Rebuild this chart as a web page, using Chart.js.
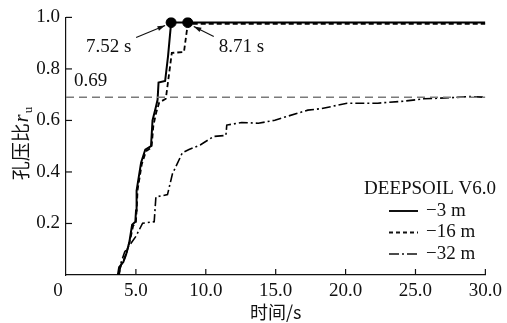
<!DOCTYPE html>
<html>
<head>
<meta charset="utf-8">
<title>孔压比时程</title>
<script src="https://cdn.jsdelivr.net/npm/chart.js"></script>
<style>
    html, body { margin: 0; padding: 0; background: #fff; }
    #chart { display: block; }
</style>
</head>
<body>
<canvas id="chart" width="507" height="323"></canvas>
<script>
// -3 m
const t3 = [3.71, 3.8, 3.95, 4.1, 4.3, 4.54, 4.73, 4.96, 5.01, 5.05, 5.37, 5.67, 6.08, 6.19, 6.43, 6.55, 6.62, 7.09, 7.3, 7.52, 30];
const r3 = [0, 0.03, 0.04, 0.05, 0.08, 0.13, 0.195, 0.207, 0.25, 0.328, 0.436, 0.487, 0.5, 0.6, 0.652, 0.68, 0.747, 0.753, 0.85, 0.98, 0.98];
// -16 m
const t16 = [3.75, 3.9, 4.0, 4.15, 4.35, 4.6, 4.8, 5.0, 5.06, 5.12, 5.42, 5.72, 6.12, 6.25, 6.45, 6.67, 7.14, 7.3, 7.57, 8.44, 8.71, 30];
const r16 = [0, 0.03, 0.05, 0.06, 0.09, 0.14, 0.19, 0.205, 0.26, 0.33, 0.43, 0.48, 0.495, 0.58, 0.63, 0.67, 0.684, 0.75, 0.862, 0.866, 0.975, 0.975];
// -32 m
const t32 = [3.8, 3.95, 4.2, 4.42, 5.0, 5.48, 6.31, 6.43, 7.26, 7.61, 8.32, 8.8, 9.6, 10.57, 11.44, 11.5, 12.57, 13.76, 14.94, 15.9, 17.3, 18.3, 20.1, 22.3, 24.2, 25.6, 27.5, 28.9, 30];
const r32 = [0, 0.05, 0.09, 0.106, 0.15, 0.201, 0.207, 0.303, 0.312, 0.392, 0.474, 0.487, 0.505, 0.538, 0.542, 0.582, 0.592, 0.589, 0.601, 0.617, 0.64, 0.646, 0.667, 0.667, 0.675, 0.684, 0.688, 0.693, 0.69];

const refLevel = [0.69, 0.69];
const refTimes = [0, 30];

const markTimes = [7.52, 8.71];
const markValues = [0.98, 0.98];
const markLabels = ['7.52 s', '8.71 s'];

const seriesNames = ['\u22123 m', '\u221216 m', '\u221232 m'];
const xTicks = [0, 5, 10, 15, 20, 25, 30];
const yTicks = [0.2, 0.4, 0.6, 0.8, 1.0];

const SERIF = '"Liberation Serif", "DejaVu Serif", serif';
const CJK = '"Noto Sans CJK SC", sans-serif';

function pts(xs, ys) {
    return xs.map((x, i) => ({ x: x, y: ys[i] }));
}

const dashes = [[], [5, 3], [9, 3, 2, 3]];
const widths = [2, 1.8, 1.6];

// 내측 눈금, 범례, 주석 그리기
const decor = {
    id: 'decor',
    afterDraw(chart) {
        const ctx = chart.ctx;
        const xs = chart.scales.x, ys = chart.scales.y;
        const area = chart.chartArea;
        ctx.save();
        ctx.strokeStyle = '#111';
        ctx.lineWidth = 1.2;
        // inner ticks
        xTicks.forEach(v => {
            if (v === 0) return;
            const px = xs.getPixelForValue(v);
            ctx.beginPath();
            ctx.moveTo(px, area.bottom);
            ctx.lineTo(px, area.bottom - 6);
            ctx.stroke();
        });
        yTicks.forEach(v => {
            const py = ys.getPixelForValue(v);
            ctx.beginPath();
            ctx.moveTo(area.left, py);
            ctx.lineTo(area.left + 6, py);
            ctx.stroke();
        });

        ctx.fillStyle = '#111';
        // origin label
        ctx.font = '19px ' + SERIF;
        ctx.textAlign = 'center';
        ctx.textBaseline = 'middle';
        ctx.fillText('0', area.left - 8, area.bottom + 16);

        // y title
        ctx.save();
        ctx.translate(21, 144);
        ctx.rotate(-Math.PI / 2);
        ctx.textBaseline = 'alphabetic';
        ctx.textAlign = 'left';
        ctx.font = '19px ' + CJK;
        const cjk = '孔压比';
        const w1 = ctx.measureText(cjk).width;
        ctx.font = 'italic 20px ' + SERIF;
        const w2 = ctx.measureText('r').width;
        ctx.font = '13px ' + SERIF;
        const w3 = ctx.measureText('u').width;
        let x0 = -(w1 + w2 + 1 + w3) / 2;
        ctx.font = '19px ' + CJK;
        ctx.fillText(cjk, x0, 7);
        ctx.font = 'italic 20px ' + SERIF;
        ctx.fillText('r', x0 + w1 + 1, 7);
        ctx.font = '13px ' + SERIF;
        ctx.fillText('u', x0 + w1 + w2 + 2, 11);
        ctx.restore();

        // 0.69 label
        ctx.font = '19px ' + SERIF;
        ctx.textAlign = 'left';
        ctx.fillText(refLevel[0].toFixed(2), xs.getPixelForValue(0) + 8, ys.getPixelForValue(refLevel[0]) - 16);

        // arrows and time labels
        const offs = [{ tx: -85, ty: 24, sx: -35, sy: 15, ex: -6, ey: 3 },
                      { tx: 31, ty: 24, sx: 26, sy: 14, ex: 6, ey: 4 }];
        markTimes.forEach((t, i) => {
            const px = xs.getPixelForValue(t), py = ys.getPixelForValue(markValues[i]);
            const o = offs[i];
            const sx = px + o.sx, sy = py + o.sy, ex = px + o.ex, ey = py + o.ey;
            ctx.lineWidth = 1.1;
            ctx.beginPath();
            ctx.moveTo(sx, sy);
            ctx.lineTo(ex, ey);
            ctx.stroke();
            const ang = Math.atan2(ey - sy, ex - sx);
            ctx.beginPath();
            ctx.moveTo(ex, ey);
            ctx.lineTo(ex - 8 * Math.cos(ang - 0.3), ey - 8 * Math.sin(ang - 0.3));
            ctx.lineTo(ex - 8 * Math.cos(ang + 0.3), ey - 8 * Math.sin(ang + 0.3));
            ctx.closePath();
            ctx.fill();
            ctx.font = '19px ' + SERIF;
            ctx.textAlign = 'left';
            ctx.fillText(markLabels[i], px + o.tx, py + o.ty);
        });

        // legend
        ctx.font = '19px ' + SERIF;
        ctx.textAlign = 'right';
        ctx.fillText('DEEPSOIL V6.0', 496, 189);
        ctx.textAlign = 'left';
        seriesNames.forEach((name, i) => {
            const y = 211 + i * 21.5;
            ctx.lineWidth = widths[i];
            ctx.setLineDash(i === 1 ? [4, 3] : (i === 2 ? [10, 3, 2, 3] : []));
            ctx.beginPath();
            ctx.moveTo(389, y);
            ctx.lineTo(418, y);
            ctx.stroke();
            ctx.setLineDash([]);
            ctx.fillText(name, 426, y);
        });
        ctx.restore();
    }
};

const ctx = document.getElementById('chart').getContext('2d');
new Chart(ctx, {
    type: 'line',
    data: {
        datasets: [
            {
                label: 'ref',
                data: pts(refTimes, refLevel),
                borderColor: '#7a7a7a',
                borderWidth: 1.3,
                borderDash: [8, 5],
                pointRadius: 0
            },
            {
                label: seriesNames[0],
                data: pts(t3, r3),
                borderColor: '#000',
                borderWidth: widths[0],
                borderDash: dashes[0],
                pointRadius: 0
            },
            {
                label: seriesNames[1],
                data: pts(t16, r16),
                borderColor: '#000',
                borderWidth: widths[1],
                borderDash: dashes[1],
                pointRadius: 0
            },
            {
                label: seriesNames[2],
                data: pts(t32, r32),
                borderColor: '#000',
                borderWidth: widths[2],
                borderDash: dashes[2],
                pointRadius: 0
            },
            {
                label: 'marks',
                type: 'scatter',
                data: pts(markTimes, markValues),
                backgroundColor: '#000',
                borderColor: '#000',
                pointRadius: 5
            }
        ]
    },
    options: {
        responsive: false,
        animation: false,
        layout: { padding: { top: 12, right: 18, left: 0, bottom: 0 } },
        plugins: {
            legend: { display: false },
            tooltip: { enabled: false }
        },
        elements: { line: { tension: 0 } },
        scales: {
            x: {
                type: 'linear',
                min: 0,
                max: 30,
                afterFit(scale) { scale.height = 48; },
                afterBuildTicks(scale) { scale.ticks = xTicks.map(v => ({ value: v })); },
                grid: { drawOnChartArea: false, drawTicks: false },
                border: { color: '#111', width: 1.2 },
                ticks: {
                    padding: 5,
                    color: '#111',
                    font: { family: SERIF, size: 19 },
                    callback: v => v === 0 ? '' : v.toFixed(1)
                },
                title: {
                    display: true,
                    text: '时间/s',
                    color: '#111',
                    font: { family: CJK, size: 18 },
                    padding: { top: 0, bottom: 0 }
                }
            },
            y: {
                min: 0,
                max: 1,
                afterFit(scale) { scale.width = 66; },
                afterBuildTicks(scale) { scale.ticks = yTicks.map(v => ({ value: v })); },
                grid: { drawOnChartArea: false, drawTicks: false },
                border: { color: '#111', width: 1.2 },
                ticks: {
                    padding: 6,
                    color: '#111',
                    font: { family: SERIF, size: 19 },
                    callback: v => v.toFixed(1)
                }
            }
        }
    },
    plugins: [decor]
});
</script>
</body>
</html>
